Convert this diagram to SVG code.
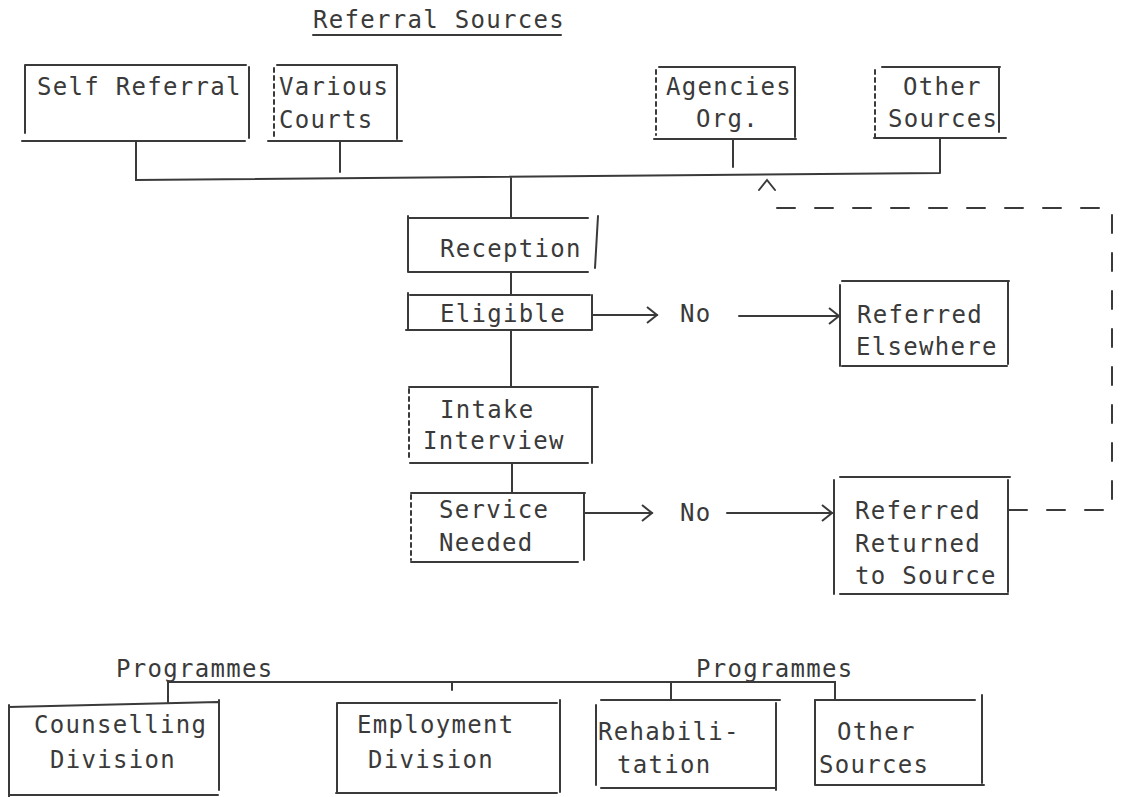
<svg xmlns="http://www.w3.org/2000/svg" width="1121" height="797" viewBox="0 0 1121 797">
<defs>
<style>
.ln{stroke:#3a3a3a;stroke-width:2;fill:none;stroke-linecap:round}
.dt{stroke-dasharray:4 4}
.dl{stroke-dasharray:18 20}
.t{font-family:"DejaVu Sans Mono","Liberation Mono",monospace;font-size:24px;letter-spacing:1.3px;fill:#3a3a3a}
</style>
<marker id="ah" markerWidth="14" markerHeight="18" refX="12" refY="9" orient="auto" markerUnits="userSpaceOnUse">
<path d="M2,1 L12,9 L2,17" fill="none" stroke="#3a3a3a" stroke-width="2"/>
</marker>
</defs>
<rect width="1121" height="797" fill="#ffffff"/>

<g id="title">
<text class="t" x="313" y="28">Referral Sources</text>
<path class="ln" d="M313,35 H561" stroke-width="2.5"/>
</g>

<g id="self-referral">
<path class="ln" d="M25,65 H246 M25,65 V133 M249,67 V138 M22,141 H245"/>
<text class="t" x="37" y="95">Self Referral</text>
</g>

<g id="various-courts">
<path class="ln" d="M277,65 H397 M397,65 V139 M268,141 H402"/>
<path class="ln dt" d="M274,68 V139"/>
<text class="t" x="279" y="95">Various</text>
<text class="t" x="279" y="128">Courts</text>
</g>

<g id="agencies-org">
<path class="ln" d="M659,67 H795 M795,67 V137 M654,139 H796"/>
<path class="ln dt" d="M656,70 V135"/>
<text class="t" x="666" y="95">Agencies</text>
<text class="t" x="696" y="127">Org.</text>
</g>

<g id="other-sources-top">
<path class="ln" d="M882,67 H1000 M999,68 V132 M874,138 H1006"/>
<path class="ln dt" d="M875,70 V137"/>
<text class="t" x="903" y="95">Other</text>
<text class="t" x="888" y="127">Sources</text>
</g>

<g id="reception">
<path class="ln" d="M408,218 H588 M408,216 V272 M598,216 L595,268 M408,272 H588"/>
<text class="t" x="440" y="257">Reception</text>
</g>

<g id="eligible">
<path class="ln" d="M410,295 H590 M408,293 V330 M592,295 V330 M406,330 H591"/>
<text class="t" x="440" y="322">Eligible</text>
</g>

<g id="intake-interview">
<path class="ln" d="M409,387 H598 M592,388 V463 M410,463 H588"/>
<path class="ln dt" d="M409,389 V461"/>
<text class="t" x="440" y="418">Intake</text>
<text class="t" x="423" y="449">Interview</text>
</g>

<g id="service-needed">
<path class="ln" d="M411,493 H585 M584,493 V560 M411,562 H578"/>
<path class="ln dt" d="M411,495 V560"/>
<text class="t" x="439" y="518">Service</text>
<text class="t" x="439" y="551">Needed</text>
</g>

<g id="referred-elsewhere">
<path class="ln" d="M842,281 H1009 M840,285 V366 M1008,281 V364 M842,366 H1007"/>
<text class="t" x="857" y="323">Referred</text>
<text class="t" x="856" y="355">Elsewhere</text>
</g>

<g id="referred-returned">
<path class="ln" d="M840,477 H1010 M834,480 V594 M1008,480 V592 M840,594 H1008"/>
<text class="t" x="855" y="519">Referred</text>
<text class="t" x="855" y="552">Returned</text>
<text class="t" x="855" y="584">to Source</text>
</g>

<g id="counselling-division">
<path class="ln" d="M9,707 L218,702 M9,705 V797 M219,700 V790 M9,795 H218"/>
<text class="t" x="34" y="733">Counselling</text>
<text class="t" x="50" y="768">Division</text>
</g>

<g id="employment-division">
<path class="ln" d="M337,703 H557 M337,703 V793 M560,700 V792 M336,793 H557"/>
<text class="t" x="357" y="733">Employment</text>
<text class="t" x="368" y="768">Division</text>
</g>

<g id="rehabilitation">
<path class="ln" d="M601,700 H780 M596,705 V785 M776,703 V790 M601,788 H776"/>
<text class="t" x="598" y="740">Rehabili-</text>
<text class="t" x="617" y="773">tation</text>
</g>

<g id="other-sources-bottom">
<path class="ln" d="M815,700 V785 M982,695 V783 M815,785 H984"/>
<path class="ln" d="M815,700 H975" stroke-width="3"/>
<text class="t" x="837" y="740">Other</text>
<text class="t" x="819" y="773">Sources</text>
</g>

<g id="labels">
<text class="t" x="680" y="322">No</text>
<text class="t" x="680" y="521">No</text>
<text class="t" x="116" y="677">Programmes</text>
<text class="t" x="696" y="677">Programmes</text>
</g>

<g id="connectors">
<path class="ln" d="M136,141 V180 L940,173 M340,141 V172 M733,139 V167 M940,139 V173"/>
<path class="ln" d="M511,178 V218 M511,272 V295 M511,330 V387 M512,463 V493"/>
<path class="ln" d="M592,315 H657" marker-end="url(#ah)"/>
<path class="ln" d="M739,316 H839" marker-end="url(#ah)"/>
<path class="ln" d="M584,513 H652" marker-end="url(#ah)"/>
<path class="ln" d="M727,513 H832" marker-end="url(#ah)"/>
<path class="ln dl" d="M1009,510 H1112 V208 H771 V194"/>
<path class="ln" d="M759,190 L767,180 L775,190"/>
<path class="ln" d="M168,702 V682 H835 V700 M452,682 V690 M671,683 V700"/>
</g>
</svg>
